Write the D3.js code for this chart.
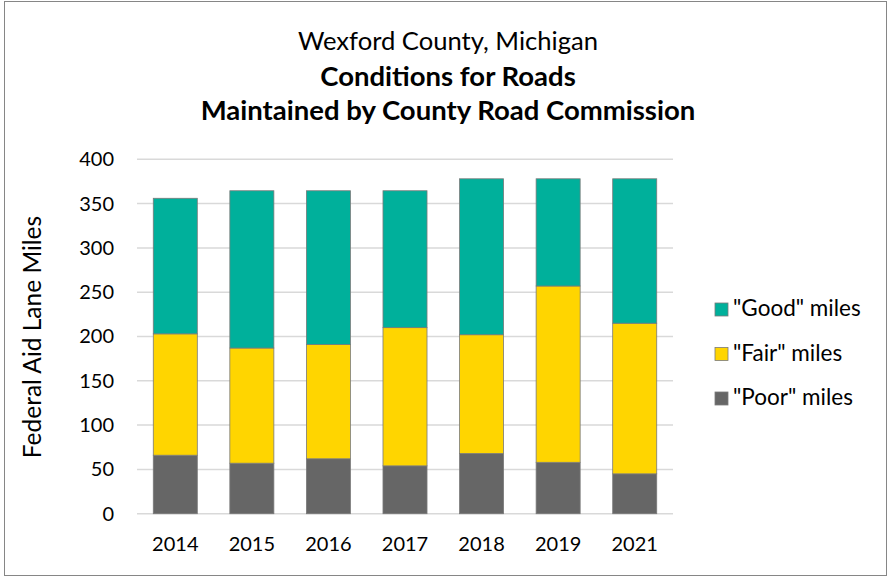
<!DOCTYPE html>
<html><head><meta charset="utf-8">
<script src="https://cdn.jsdelivr.net/npm/d3@7"></script>
<style>body{margin:0;background:#fff}svg{display:block}text{font-family:Lato,"Open Sans",sans-serif;fill:#000}</style>
</head><body>
<svg id="c" width="888" height="577"></svg>
<script>
const years = ["2014","2015","2016","2017","2018","2019","2021"];
const poor = [66, 57, 62, 54, 68, 58, 45];
const fair = [137, 130, 129, 156, 134, 199, 170];
const good = [153, 177.5, 173.5, 154.5, 176, 121, 163];
const seriesNames = ['"Poor" miles', '"Fair" miles', '"Good" miles'];
const colors = ["#666666", "#FFD500", "#00B09B"];
const yTicks = [0, 50, 100, 150, 200, 250, 300, 350, 400];

const svg = d3.select("#c");
svg.append("rect").attr("x",4.5).attr("y",1.5).attr("width",882).attr("height",574)
  .attr("fill","#fff").attr("stroke","#868686");

const x = d3.scaleBand().domain(years).range([137, 673]).paddingInner(0.425).paddingOuter(0.2125);
const y = d3.scaleLinear().domain([0, 400]).range([513.7, 159.3]);

svg.append("g").selectAll("line").data(yTicks).join("line")
  .attr("x1",137).attr("x2",673).attr("y1",d=>y(d)).attr("y2",d=>y(d))
  .attr("stroke","#D9D9D9").attr("stroke-width",1.5);

const rows = years.map((yr,i)=>({year:yr, p:poor[i], f:fair[i], g:good[i]}));
const stack = d3.stack().keys(["p","f","g"])(rows);
svg.append("g").selectAll("g").data(stack).join("g")
  .attr("fill",(d,i)=>colors[i])
  .selectAll("rect").data(d=>d).join("rect")
  .attr("x",d=>x(d.data.year)).attr("width",x.bandwidth())
  .attr("y",d=>y(d[1])).attr("height",d=>y(d[0])-y(d[1]))
  .attr("stroke","#7a7a7a").attr("stroke-width",0.8);

const ya = svg.append("g").attr("transform","translate(114,0)")
  .call(d3.axisLeft(y).tickValues(yTicks).tickSize(0).tickPadding(0));
ya.select(".domain").remove();
ya.selectAll("text").attr("font-size",20).attr("font-family","Lato,sans-serif").attr("fill","#000");

const xa = svg.append("g").attr("transform","translate(0,537)")
  .call(d3.axisBottom(x).tickSize(0).tickPadding(0));
xa.select(".domain").remove();
xa.selectAll("text").attr("font-size",20).attr("font-family","Lato,sans-serif").attr("fill","#000").attr("dy","0.71em");

svg.append("text").attr("x",448).attr("y",50).attr("text-anchor","middle").attr("font-size",25.6).text("Wexford County, Michigan");
svg.append("text").attr("x",448).attr("y",86).attr("text-anchor","middle").attr("font-size",27.5).attr("font-weight","bold").text("Conditions for Roads");
svg.append("text").attr("x",448).attr("y",120).attr("text-anchor","middle").attr("font-size",27.5).attr("font-weight","bold").text("Maintained by County Road Commission");

svg.append("text").attr("transform","translate(41,337) rotate(-90)").attr("text-anchor","middle")
  .attr("font-size",24.5).text("Federal Aid Lane Miles");

const legendOrder = [2,1,0];
const lg = svg.append("g").selectAll("g").data(legendOrder).join("g")
  .attr("transform",(d,i)=>`translate(715,${316 + i*44.5})`);
lg.append("rect").attr("x",0).attr("y",-13).attr("width",13).attr("height",13)
  .attr("fill",d=>colors[d]).attr("stroke","#7a7a7a").attr("stroke-width",0.8);
lg.append("text").attr("x",18).attr("y",0).attr("font-size",22.5).text(d=>seriesNames[d]);
</script>
</body></html>
